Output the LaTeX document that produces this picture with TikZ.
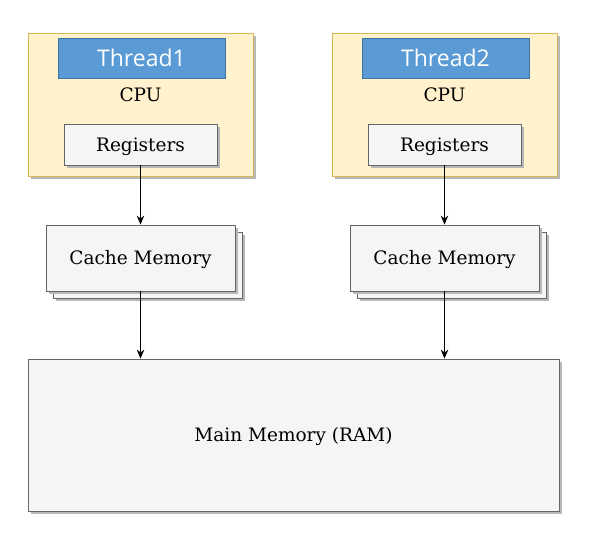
\documentclass[tikz,border=0pt]{standalone}
\usepackage{fontspec}
\setmainfont{DejaVu Serif}
\newfontfamily\thrfont{Open Sans}
\usetikzlibrary{arrows.meta,shadows}
\definecolor{cpufill}{HTML}{FFF2CC}
\definecolor{cpuline}{HTML}{D6B656}
\definecolor{thrfill}{HTML}{5B9BD5}
\definecolor{thrline}{HTML}{41719C}
\definecolor{boxfill}{HTML}{F5F5F5}
\definecolor{boxline}{HTML}{666666}
\tikzset{
  shd/.style={drop shadow={shadow xshift=3pt,shadow yshift=-3pt,fill=black!28,opacity=1}},
  cpubox/.style={draw=cpuline,fill=cpufill,line width=0.8pt,shd},
  thrbox/.style={draw=thrline,fill=thrfill,line width=0.6pt,text=white,font=\thrfont\fontsize{23}{27}\selectfont},
  graybox/.style={draw=boxline,fill=boxfill,line width=0.8pt,shd,font=\fontsize{18.5}{22}\selectfont,text depth=0pt,text height=13pt},
  lbl/.style={font=\fontsize{18.5}{22}\selectfont},
  arr/.style={-{Stealth[length=9pt,width=7.5pt]},line width=0.8pt}
}
\begin{document}
\begin{tikzpicture}[x=1pt,y=-1pt]
\useasboundingbox (0,0) rectangle (593,546);
\foreach \dx/\n in {0/1,304/2}{
  \begin{scope}[xshift=\dx pt]
  \path[cpubox] (28,33) rectangle (253,176);
  \node[thrbox,minimum width=167pt,minimum height=40pt,inner sep=0pt] (thr\n) at (141.5,58) {Thread\n};
  \node[lbl] (cpu\n) at (140.5,95) {CPU};
  \node[graybox,minimum width=153pt,minimum height=41pt,inner sep=0pt] (reg\n) at (140.5,144.5) {Registers};
  \path[draw=boxline,fill=boxfill,line width=0.8pt,shd] (53,232) rectangle (242,298);
  \node[graybox,minimum width=189pt,minimum height=66pt,inner sep=0pt] (cache\n) at (140.5,258) {Cache Memory};
  \end{scope}
}
\node[graybox,minimum width=531pt,minimum height=152pt,inner sep=0pt] (ram) at (293.5,435) {Main Memory (RAM)};
\draw[arr] (reg1.south) -- (cache1.north);
\draw[arr] (reg2.south) -- (cache2.north);
\draw[arr] (cache1.south) -- (cache1.south |- ram.north);
\draw[arr] (cache2.south) -- (cache2.south |- ram.north);
\end{tikzpicture}
\end{document}
